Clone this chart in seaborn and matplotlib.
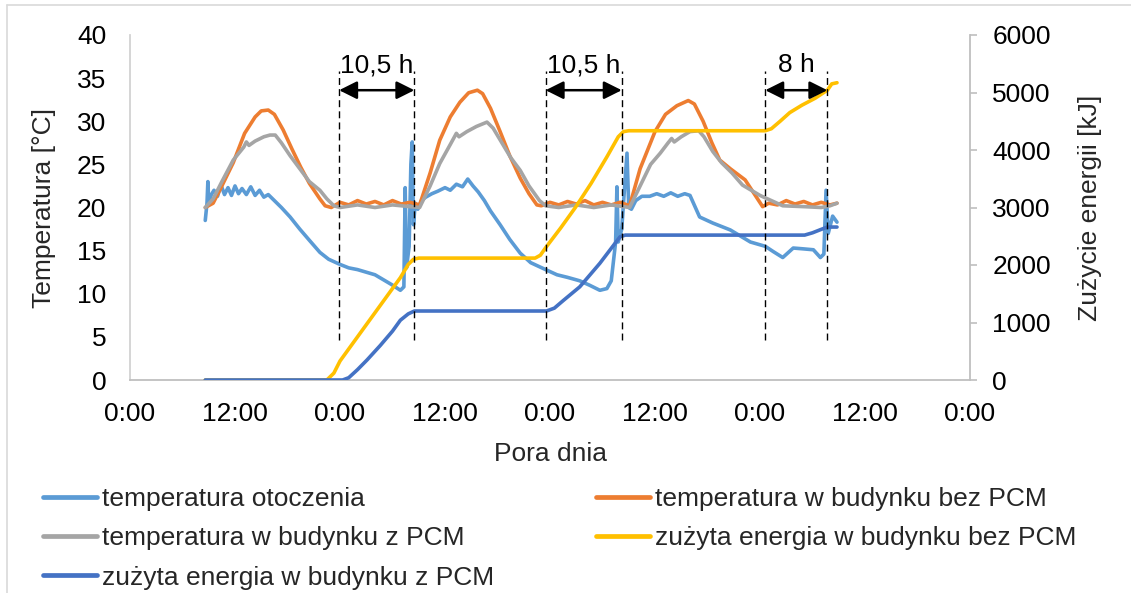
import matplotlib
matplotlib.use("Agg")
import matplotlib.pyplot as plt
from matplotlib.lines import Line2D
import seaborn as sns
import pandas as pd

# ---------------- data (hours from first 0:00, value) ----------------
amb_h = [8.6, 8.8, 8.9, 9.0, 9.3, 9.6, 10.0, 10.4, 10.8, 11.2, 11.6, 12.0, 12.4, 12.8, 13.3, 13.8,
         14.3, 14.8, 15.3, 15.8, 16.5, 17.3, 18.3, 19.4, 20.5, 21.7, 22.7, 24.0, 25.0, 26.0, 27.0,
         28.0, 29.0, 30.0, 30.9, 31.3, 31.45, 31.6, 31.9, 32.1, 32.25, 32.4, 32.6, 32.9, 33.3, 33.8,
         34.5, 35.2, 36.0, 36.6, 37.3, 38.0, 38.6, 39.2, 39.8, 40.5, 41.2, 42.3, 43.4, 44.6, 45.8,
         47.5, 48.8, 50.0, 51.4, 52.5, 53.7, 54.5, 55.0, 55.5, 55.65, 55.8, 56.2, 56.5, 56.8, 57.0,
         57.3, 57.8, 58.5, 59.4, 60.2, 61.0, 61.8, 62.6, 63.4, 64.0, 65.1, 66.6, 68.6, 70.9, 72.6,
         73.5, 74.6, 75.8, 77.0, 78.1, 78.9, 79.3, 79.55, 79.8, 80.3, 80.8]
amb_t = [18.5, 20.5, 23.0, 20.5, 21.5, 22.0, 21.3, 22.6, 21.5, 22.3, 21.4, 22.5, 21.6, 22.2, 21.5, 22.4,
         21.4, 22.0, 21.2, 21.5, 20.8, 20.0, 18.9, 17.5, 16.2, 14.8, 14.0, 13.4, 13.0, 12.8, 12.5,
         12.2, 11.6, 11.0, 10.4, 10.8, 22.3, 13.0, 15.5, 25.0, 27.6, 18.0, 20.5, 19.8, 20.8, 21.2,
         21.6, 21.9, 22.3, 22.0, 22.7, 22.4, 23.3, 22.5, 21.8, 20.8, 19.6, 18.0, 16.3, 14.7, 13.6,
         12.8, 12.2, 11.9, 11.5, 11.0, 10.4, 10.6, 11.5, 16.0, 22.4, 16.0, 17.5, 22.0, 26.3, 20.0,
         19.8, 20.8, 21.3, 21.3, 21.6, 21.3, 21.7, 21.3, 21.6, 21.4, 18.9, 18.2, 17.4, 16.0, 15.5,
         14.9, 14.2, 15.3, 15.2, 15.1, 14.2, 14.6, 22.0, 17.0, 19.0, 18.3]

bez_h = [8.6, 9.5, 10.5, 11.8, 13.1, 14.3, 15.0, 15.8, 16.5, 17.5, 18.5, 19.5, 20.5, 21.7, 22.3, 23.0,
         24, 25, 26, 27, 28, 29, 30, 31, 32, 33.1,
         34.3, 35.4, 36.6, 37.7, 38.7, 39.7, 40.3, 41.2, 42.3, 43.4, 44.6, 45.6, 46.5, 47.0,
         48, 49, 50, 51, 52, 53, 54, 55, 56, 57.1,
         58.3, 60.0, 61.2, 62.5, 63.8, 64.5, 65.5, 66.5, 67.4, 68.6, 70.3, 71.4, 72.3,
         73, 74, 75, 76, 77, 78, 79, 80, 80.8]
bez_t = [20.0, 20.5, 22.5, 25.2, 28.6, 30.5, 31.2, 31.3, 30.8, 29.0, 26.8, 24.7, 22.8, 21.0, 20.2, 20.0,
         20.6, 20.3, 20.8, 20.4, 20.7, 20.3, 20.8, 20.4, 20.6, 20.3,
         24.0, 27.8, 30.5, 32.2, 33.3, 33.6, 33.2, 31.5, 28.8, 26.0, 23.4, 21.6, 20.3, 20.2,
         20.6, 20.3, 20.7, 20.4, 20.8, 20.3, 20.6, 20.3, 20.6, 20.2,
         24.5, 28.8, 30.8, 31.8, 32.4, 32.0, 30.0, 27.5, 25.5, 24.5, 23.2, 21.5, 20.1,
         20.5, 20.3, 20.8, 20.4, 20.7, 20.3, 20.6, 20.3, 20.5]

zpcm_h = [8.6, 9.5, 10.5, 11.8, 13.0, 13.3, 13.6, 14.3, 15.3, 16.0, 16.6, 17.3, 18.3, 19.4, 20.5, 21.7,
          22.5, 23.3, 24, 26, 28, 30, 32, 33.1,
          34.3, 35.4, 36.6, 37.3, 37.6, 38.5, 39.6, 40.8, 41.5, 42.5, 43.5, 44.6, 45.6, 46.8, 47.5,
          49, 51, 53, 55, 57.1,
          58.3, 59.5, 60.6, 61.5, 61.9, 62.2, 63.0, 64.0, 65.0, 65.6, 66.6, 67.6, 68.8, 70.0, 72.0,
          74.6, 77, 79, 80, 80.8]
zpcm_t = [20.0, 21.0, 23.0, 25.5, 27.0, 27.6, 27.2, 27.7, 28.2, 28.4, 28.4, 27.5, 26.0, 24.5, 23.0, 22.0,
          21.0, 20.2, 20.0, 20.3, 20.0, 20.3, 20.1, 20.0,
          22.5, 25.1, 27.3, 28.6, 28.2, 28.8, 29.4, 29.9, 29.2, 27.5, 25.8, 24.3, 22.5, 20.8, 20.2,
          20.0, 20.3, 20.0, 20.3, 20.0,
          22.5, 25.0, 26.3, 27.5, 28.0, 27.6, 28.2, 28.8, 28.9, 28.2, 26.5, 25.2, 24.0, 22.6, 21.4,
          20.2, 20.1, 20.0, 20.2, 20.5]

ebez_h = [8.6, 22.5, 23.3, 24.0, 30.9, 31.8, 32.4, 33.0, 46.3, 46.9, 47.5, 49.2, 50.9, 52.7, 54.5,
          55.8, 56.4, 57.0, 72.6, 73.3, 74.3, 75.4, 76.8, 78.3, 79.7, 80.2, 80.8]
ebez_e = [0, 0, 120, 330, 1780, 2010, 2100, 2120, 2120, 2170, 2300, 2640, 3000, 3420, 3880,
          4230, 4320, 4335, 4335, 4370, 4500, 4650, 4780, 4900, 5040, 5150, 5170]

ez_h = [8.6, 24.3, 25.0, 26.0, 27.1, 28.6, 30.0, 30.9, 31.8, 32.5, 47.6, 48.5, 49.5, 51.4, 53.7,
        56.0, 56.6, 77.1, 78.0, 79.0, 79.7, 80.8]
ez_e = [0, 0, 40, 180, 350, 600, 850, 1040, 1150, 1200, 1200, 1250, 1380, 1620, 2030,
        2490, 2520, 2520, 2560, 2620, 2660, 2660]

dash_hours = [23.9, 32.5, 47.5, 56.2, 72.6, 79.7]
spans = [(23.9, 32.5, "10,5 h"), (47.5, 56.2, "10,5 h"), (72.6, 79.7, "8 h")]

xtick_vals = [0, 12, 24, 36, 48, 60, 72, 84, 96]
xtick_labels = ["0:00", "12:00", "0:00", "12:00", "0:00", "12:00", "0:00", "12:00", "0:00"]

labels = ["temperatura otoczenia", "temperatura w budynku bez PCM",
          "temperatura w budynku z PCM", "zużyta energia w budynku bez PCM",
          "zużyta energia w budynku z PCM"]
colors = ["#5B9BD5", "#ED7D31", "#A5A5A5", "#FFC000", "#4472C4"]

# ---------------- style ----------------
sns.set_theme(style="white")
plt.rcParams["font.family"] = ["Liberation Sans", "DejaVu Sans"]
FS = 19

W, H = 1131, 593
fig = plt.figure(figsize=(W / 100, H / 100), dpi=100)
ax = fig.add_axes([130 / W, 1 - 380 / H, 840 / W, 345 / H])
ax2 = ax.twinx()

LW = 2.6
series_primary = [(amb_h, amb_t, 0), (bez_h, bez_t, 1), (zpcm_h, zpcm_t, 2)]
for hs, vs, i in series_primary:
    df = pd.DataFrame({"h": hs, "v": vs})
    sns.lineplot(data=df, x="h", y="v", ax=ax, color=colors[i], lw=LW,
                 estimator=None, sort=False, legend=False)
series_secondary = [(ebez_h, ebez_e, 3), (ez_h, ez_e, 4)]
for hs, vs, i in series_secondary:
    df = pd.DataFrame({"h": hs, "v": vs})
    sns.lineplot(data=df, x="h", y="v", ax=ax2, color=colors[i], lw=LW,
                 estimator=None, sort=False, legend=False)

# dashed markers and arrows (drawn in temperature coordinates, on top)
for hx in dash_hours:
    ax2.plot([hx, hx], [4.6, 35.8], transform=ax.transData, color="black",
             lw=1.0, ls=(0, (5, 3)), zorder=10)
for x1, x2, txt in spans:
    ax2.annotate("", xy=(x2, 33.6), xytext=(x1, 33.6), xycoords=ax.transData,
                 textcoords=ax.transData,
                 arrowprops=dict(arrowstyle="<|-|>,head_length=0.6,head_width=0.3",
                                 color="black", lw=1.8, mutation_scale=18,
                                 shrinkA=0, shrinkB=0), zorder=11)
    ax2.text((x1 + x2) / 2, 35.7, txt, transform=ax.transData, ha="center",
             va="baseline", fontsize=FS, color="black", zorder=11)

# axes
ax.set_xlim(0, 96)
ax.set_ylim(0, 40)
ax2.set_ylim(0, 6000)
ax.set_xticks(xtick_vals)
ax.set_xticklabels(xtick_labels)
ax.set_yticks(range(0, 41, 5))
ax2.set_yticks(range(0, 6001, 1000))

spc = "#BFBFBF"
for a in (ax, ax2):
    for s in a.spines.values():
        s.set_visible(False)
ax.spines["left"].set_visible(True)
ax.spines["left"].set_color("#D0D0D0")
ax.spines["bottom"].set_visible(True)
ax.spines["bottom"].set_color(spc)
ax.spines["bottom"].set_linewidth(1.3)
ax2.spines["right"].set_visible(True)
ax2.spines["right"].set_color(spc)
ax2.spines["right"].set_linewidth(1.3)

ax.tick_params(axis="both", length=0, labelsize=FS, colors="black")
ax.tick_params(axis="y", pad=17)
ax.tick_params(axis="x", pad=16)
ax2.tick_params(axis="y", length=5, width=1.2, color=spc, labelsize=FS,
                labelcolor="black", pad=11)

ax.set_xlabel("Pora dnia", fontsize=FS)
ax.set_ylabel("Temperatura [°C]", fontsize=FS)
ax2.set_ylabel("Zużycie energii [kJ]", fontsize=FS, rotation=90)
ax.xaxis.set_label_coords(0.5, -0.18)
ax.yaxis.set_label_coords(-0.088, 0.5)
ax2.yaxis.set_label_coords(1.129, 0.5)

# legends
def handle(i):
    return Line2D([0], [0], color=colors[i], lw=3.4)

leg_kw = dict(frameon=False, fontsize=FS, handlelength=2.05, handletextpad=0.2,
              labelspacing=0.58, borderpad=0, borderaxespad=0, loc="upper left")
l1 = fig.legend([handle(0), handle(2), handle(4)], [labels[0], labels[2], labels[4]],
                bbox_to_anchor=(43 / W, 1 - 487 / H), **leg_kw)
l2 = fig.legend([handle(1), handle(3)], [labels[1], labels[3]],
                bbox_to_anchor=(596 / W, 1 - 487 / H), **leg_kw)

# outer chart-area border (left and top edges visible)
fig.add_artist(Line2D([7 / W, 7 / W], [0, 1 - 5 / H], color="#D9D9D9", lw=1.2))
fig.add_artist(Line2D([7 / W, 1], [1 - 5 / H, 1 - 5 / H], color="#D9D9D9", lw=1.2))

fig.savefig("out.png", dpi=100)
